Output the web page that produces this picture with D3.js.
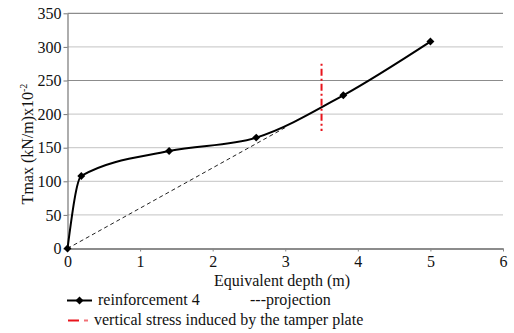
<!DOCTYPE html>
<html>
<head>
<meta charset="utf-8">
<script src="https://cdn.jsdelivr.net/npm/d3@7"></script>
<style>
  body { margin: 0; background: #fff; }
</style>
</head>
<body>
<svg id="chart" width="514" height="333"></svg>
<script>
// Reinforcement 4 measurements: equivalent depth (m) vs Tmax (kN/m x10^-2)
const depth = [0, 0.19, 1.4, 2.6, 3.8, 5.0];
const tmax = [0, 108, 145, 165, 228, 308];

// Linear projection of the initial trend
const projDepth = [0, 3.0];
const projTmax = [0, 180];

// Depth of the vertical stress induced by the tamper plate, and its extent
const stressDepth = 3.5;
const stressRange = [175, 275];

const xTicks = [0, 1, 2, 3, 4, 5, 6];
const yTicks = [0, 50, 100, 150, 200, 250, 300, 350];

const SERIF = '"Liberation Serif", "Times New Roman", Times, "DejaVu Serif", serif';

const svg = d3.select("#chart");
const plotLeft = 67.5, plotRight = 503, plotTop = 13.3, plotBottom = 248.5;

const x = d3.scaleLinear().domain([0, 6]).range([plotLeft, plotRight]);
const y = d3.scaleLinear().domain([0, 350]).range([plotBottom, plotTop]);

// horizontal gridlines
svg.append("g").selectAll("line")
  .data(yTicks.filter(d => d > 0))
  .join("line")
  .attr("x1", plotLeft).attr("x2", plotRight)
  .attr("y1", d => y(d)).attr("y2", d => y(d))
  .attr("stroke", d => (d === 250 || d === 350) ? "#8c8c8c" : "#cfcfcf")
  .attr("stroke-width", 1.2);

// y axis
const yAxis = svg.append("g")
  .attr("transform", `translate(${plotLeft},0)`)
  .call(d3.axisLeft(y).tickValues(yTicks).tickFormat(d3.format("d"))
    .tickSize(4).tickSizeOuter(0).tickPadding(2));
yAxis.select(".domain").attr("stroke", "#777").attr("stroke-width", 1.2);
yAxis.selectAll(".tick line").attr("stroke", "#777");

// x axis
const xAxis = svg.append("g")
  .attr("transform", `translate(0,${plotBottom})`)
  .call(d3.axisBottom(x).tickValues(xTicks).tickFormat(d3.format("d"))
    .tickSize(3).tickSizeOuter(0).tickPadding(4));
xAxis.select(".domain").attr("stroke", "#666").attr("stroke-width", 1.5);
xAxis.selectAll(".tick line").attr("stroke", "#888");

[yAxis, xAxis].forEach(a => a.attr("font-family", null).attr("font-size", null));

// projection (dashed)
const lineGen = d3.line().x(d => x(d[0])).y(d => y(d[1]));
svg.append("path")
  .datum(d3.zip(projDepth, projTmax))
  .attr("d", lineGen)
  .attr("fill", "none")
  .attr("stroke", "#222")
  .attr("stroke-width", 1)
  .attr("stroke-dasharray", "4,3");

// measured curve (smoothed)
const pts = d3.zip(depth, tmax);
svg.append("path")
  .datum(pts)
  .attr("d", d3.line().x(d => x(d[0])).y(d => y(d[1])).curve(d3.curveMonotoneX))
  .attr("fill", "none")
  .attr("stroke", "#000")
  .attr("stroke-width", 2);

const diamond = d3.symbol().type(d3.symbolDiamond2).size(40);
svg.append("g").selectAll("path")
  .data(pts)
  .join("path")
  .attr("transform", d => `translate(${x(d[0])},${y(d[1])})`)
  .attr("d", diamond)
  .attr("fill", "#000");

// tamper plate stress marker
svg.append("line")
  .attr("x1", x(stressDepth)).attr("x2", x(stressDepth))
  .attr("y1", y(stressRange[1])).attr("y2", y(stressRange[0]))
  .attr("stroke", "#e8141c")
  .attr("stroke-width", 2)
  .attr("stroke-dasharray", "2,3,7,3");

// axis titles
svg.append("text")
  .attr("x", 282).attr("y", 285.5)
  .attr("text-anchor", "middle")
  .text("Equivalent depth (m)");

const yt = svg.append("text")
  .attr("transform", "translate(33,144) rotate(-90)")
  .attr("text-anchor", "middle");
yt.append("tspan").text("Tmax (kN/m)x10");
yt.append("tspan").style("font-size", "10px").attr("dy", -6).text("-2");

// legend
const lg = svg.append("g");
lg.append("line").attr("x1", 67).attr("x2", 92).attr("y1", 300.5).attr("y2", 300.5)
  .attr("stroke", "#000").attr("stroke-width", 2);
lg.append("path").attr("transform", "translate(79.5,300.5)").attr("d", diamond).attr("fill", "#000");
lg.append("text").attr("x", 98).attr("y", 305.3).text("reinforcement 4");
lg.append("text").attr("x", 250).attr("y", 305.3).text("---projection");

lg.append("line").attr("x1", 68).attr("x2", 79).attr("y1", 320.5).attr("y2", 320.5)
  .attr("stroke", "#e8141c").attr("stroke-width", 2);
lg.append("line").attr("x1", 84).attr("x2", 88).attr("y1", 320.5).attr("y2", 320.5)
  .attr("stroke", "#e8141c").attr("stroke-width", 2).attr("opacity", 0.6);
lg.append("text").attr("x", 94).attr("y", 325.3)
  .text("vertical stress induced by the tamper plate");

// shared text styling
svg.selectAll("text")
  .style("font-family", SERIF)
  .style("fill", "#111");
svg.selectAll("text").filter(function () { return !this.style.fontSize; })
  .style("font-size", "16px");
</script>
</body>
</html>
